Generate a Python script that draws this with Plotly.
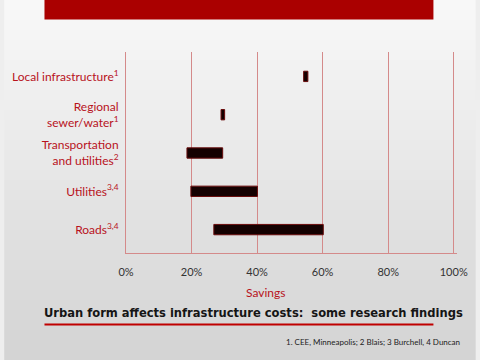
import plotly.graph_objects as go

categories = ["Local infrastructure<sup>1</sup>",
              "Regional<br>sewer/water<sup>1</sup>",
              "Transportation<br>and utilities<sup>2</sup>",
              "Utilities<sup>3,4</sup>",
              "Roads<sup>3,4</sup>"]
savings_start = [54.2, 29.0, 18.6, 19.8, 26.8]
savings_end = [55.5, 30.1, 29.5, 40.1, 60.2]
tick_vals = [0, 20, 40, 60, 80, 100]
tick_text = ["0%", "20%", "40%", "60%", "80%", "100%"]

title_text = "Urban form affects infrastructure costs:  some research findings"
footnote = "1. CEE, Minneapolis; 2 Blais; 3 Burchell, 4 Duncan"

W, H = 480, 360
L, R, T, B = 124, 19, 52, 107
PW, PH = W - L - R, H - T - B

def px(x):
    return (x - L) / PW

def py(y):
    return (H - B - y) / PH

RED = "#b8121c"
GRID = "#d48a8a"

fig = go.Figure()
fig.add_trace(go.Bar(
    y=categories,
    x=[e - s for s, e in zip(savings_start, savings_end)],
    base=savings_start,
    orientation="h",
    width=0.27,
    marker=dict(color="#140000", line=dict(color="#6a0c0c", width=1)),
    hoverinfo="skip",
))

shapes = []
# background gradient bands
n = 36
for i in range(n):
    y0 = i * H / n
    y1 = (i + 1) * H / n
    t = (i + 0.5) / n
    v = int(round(249 - (249 - 211) * t))
    c = f"rgb({v},{v},{v})"
    shapes.append(dict(type="rect", xref="paper", yref="paper",
                       x0=px(0), x1=px(W), y0=py(y1), y1=py(y0),
                       fillcolor=c, line=dict(width=0), layer="below"))
# top red bar
shapes.append(dict(type="rect", xref="paper", yref="paper",
                   x0=px(41), x1=px(437), y0=py(19.5), y1=py(-2),
                   fillcolor="#aa0000", line=dict(width=0), layer="below"))
# title underline
shapes.append(dict(type="line", xref="paper", yref="paper",
                   x0=px(41), x1=px(437), y0=py(324.5), y1=py(324.5),
                   line=dict(color="#c00000", width=2)))

annotations = [
    dict(text="Savings", x=42.5, xref="x", y=py(292), yref="paper",
         showarrow=False, xanchor="center", yanchor="middle",
         font=dict(family="Lato, sans-serif", size=12, color=RED)),
    dict(text=f"<b>{title_text}</b>", x=px(254), xref="paper", y=py(312), yref="paper",
         showarrow=False, xanchor="center", yanchor="middle",
         font=dict(family="DejaVu Sans Condensed, DejaVu Sans, sans-serif",
                   size=12.8, color="#151515")),
    dict(text=footnote, x=px(466), xref="paper", y=py(342), yref="paper",
         showarrow=False, xanchor="right", yanchor="middle",
         font=dict(family="Lato, sans-serif", size=8, color="#222222")),
]

fig.update_layout(
    width=W, height=H,
    margin=dict(l=L, r=R, t=T, b=B, pad=0),
    paper_bgcolor="#eeeeee",
    plot_bgcolor="rgba(0,0,0,0)",
    showlegend=False,
    shapes=shapes,
    annotations=annotations,
    xaxis=dict(range=[0, 101], tickvals=tick_vals, ticktext=tick_text,
               showgrid=True, gridcolor=GRID, gridwidth=1,
               zeroline=False, showline=True, linecolor=GRID, linewidth=1,
               ticks="outside", ticklen=9, tickcolor="rgba(0,0,0,0)",
               tickfont=dict(family="Lato, sans-serif", size=11, color="#333333"),
               fixedrange=True),
    yaxis=dict(type="category", categoryorder="array", categoryarray=categories,
               range=[4.611, -0.637],
               showgrid=False, zeroline=False, showline=True, linecolor=GRID, linewidth=1,
               ticks="outside", ticklen=4, tickcolor="rgba(0,0,0,0)",
               tickfont=dict(family="Lato, sans-serif", size=12, color=RED),
               fixedrange=True),
)

fig.write_html("out.html", config={"displayModeBar": False},
               post_script="document.body.style.margin='0px';")
